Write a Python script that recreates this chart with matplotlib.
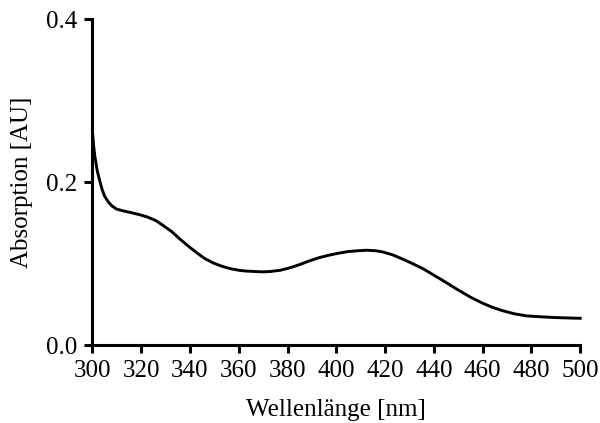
import numpy as np
import matplotlib
matplotlib.use("Agg")
import matplotlib.pyplot as plt

# Absorption spectrum
wavelength = [300, 300.5, 301, 302, 303, 304, 305, 306.5, 308, 310, 312.5,
              315.5, 319, 322.5, 326, 329, 332.5, 336, 340, 343, 346, 349.5,
              353, 356.5, 360, 363, 366.5, 370, 373, 377, 381, 385, 389, 393,
              397, 401, 405, 409, 412.5, 416, 419, 423, 427, 431, 435.5, 440,
              445, 449, 455, 460, 464, 468, 473, 478, 483, 489, 494, 500]
absorption = [0.264, 0.245, 0.232, 0.214, 0.202, 0.191, 0.183, 0.176, 0.171,
              0.167, 0.165, 0.163, 0.1605, 0.1575, 0.153, 0.147, 0.1395, 0.130,
              0.120, 0.113, 0.1065, 0.101, 0.097, 0.094, 0.092, 0.091, 0.0905,
              0.090, 0.0905, 0.092, 0.095, 0.099, 0.1035, 0.1075, 0.1105, 0.113,
              0.115, 0.116, 0.1166, 0.116, 0.1145, 0.111, 0.106, 0.1005, 0.094,
              0.086, 0.077, 0.0695, 0.059, 0.0515, 0.0465, 0.0425, 0.0385, 0.036,
              0.035, 0.034, 0.0335, 0.033]

x_ticks = [300, 320, 340, 360, 380, 400, 420, 440, 460, 480, 500]
y_ticks = [0.0, 0.2, 0.4]

plt.rcParams['font.family'] = ['Liberation Serif', 'DejaVu Serif']
plt.rcParams['font.size'] = 18

fig = plt.figure(figsize=(6, 4.23), dpi=100)
ax = fig.add_axes([0.154, 0.184, 0.813, 0.770])

ax.plot(wavelength, absorption, color='black', linewidth=2.1,
        solid_joinstyle='round', clip_on=False)

ax.set_xlim(300, 500)
ax.set_ylim(0, 0.4)
ax.set_xticks(x_ticks)
ax.set_yticks(y_ticks)
ax.set_yticklabels(['%.1f' % v for v in y_ticks])

for side in ['top', 'right']:
    ax.spines[side].set_visible(False)
for side in ['left', 'bottom']:
    ax.spines[side].set_linewidth(2.2)
ax.tick_params(width=2.2, length=6, direction='out', pad=5)

ax.set_xlabel('Wellenlänge [nm]', labelpad=12)
ax.set_ylabel('Absorption [AU]', labelpad=9)

fig.savefig('out.png', dpi=100)
